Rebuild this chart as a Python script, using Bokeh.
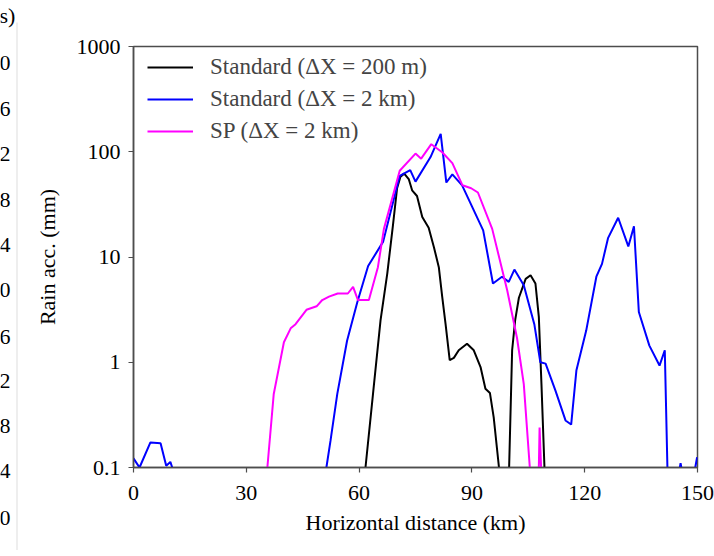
import math
from bokeh.plotting import figure
from bokeh.layouts import row
from bokeh.models import Range1d, FixedTicker, Legend, LegendItem
from bokeh.core.properties import value
from bokeh.embed import file_html
from bokeh.resources import INLINE

nan = float("nan")

# ---- data ----
dist_std200 = [61.7, 63.7, 65.7, 67.5, 69.0, 70.1, 71.0, 72.0, 73.2, 74.1, 75.4, 76.8,
               78.5, 79.9, 81.2, 82.1, 83.0, 84.1, 85.2, 86.5, 88.7, 90.5, 92.3, 93.6,
               94.8, 95.8, 97.2, nan, 99.9, 100.7, 101.5, 102.5, 104.3, 105.6, 106.9,
               107.8, 108.5, 109.3]
rain_std200 = [0.1, 0.5, 2.5, 7.0, 20, 45, 58, 62, 55, 43, 38, 24,
               19, 12.4, 8.0, 4.2, 2.3, 1.05, 1.1, 1.3, 1.5, 1.3, 0.9, 0.56,
               0.51, 0.3, 0.1, nan, 0.1, 1.3, 2.5, 4.1, 6.2, 6.7, 5.6,
               2.7, 0.62, 0.1]

dist_std2k = [0, 1.6, 4.5, 7.2, 8.7, 9.8, 10.3, nan,
              51.3, 52.4, 54.2, 56.8, 59.5, 62.4, 66.4, 70.8, 73.6, 75.0, 79.0, 81.7,
              83.2, 84.8, 87.4, 93.0, 95.6, 98.0, 99.8, 101.3, 103.8, 106.6, 108.2,
              109.6, 112.2, 114.9, 116.4, 117.8, 120.4, 123.1, 124.6, 126.2, 128.9,
              131.6, 133.1, 134.4, 137.2, 139.9, 141.3, 142.0, nan,
              145.3, 145.5, 145.7, nan, 149.4, 149.9]
rain_std2k = [0.122, 0.1, 0.173, 0.17, 0.104, 0.113, 0.1, nan,
              0.1, 0.18, 0.5, 1.6, 3.7, 8.2, 14, 59, 67, 52, 89, 148,
              51, 61, 48, 17.9, 5.6, 6.5, 5.8, 7.6, 5.4, 2.3, 1.0,
              0.97, 0.54, 0.28, 0.256, 0.84, 2.0, 6.5, 8.6, 15.1, 23.6,
              12.6, 19.6, 3.0, 1.44, 0.93, 1.3, 0.1, nan,
              0.1, 0.11, 0.1, nan, 0.1, 0.125]

dist_sp = [35.6, 37.3, 40.0, 41.8, 43.1, 46.0, 48.7, 50.2, 52.0, 54.3, 57.0, 58.4,
           59.7, 62.6, 65.0, 66.6, 70.8, 75.0, 76.5, 79.2, 82.1, 84.8, 87.5, 89.8,
           91.6, 95.4, 99.4, 102.0, 103.8, 105.4, nan, 107.8, 108.0, 108.4]
rain_sp = [0.1, 0.5, 1.55, 2.1, 2.3, 3.15, 3.4, 3.9, 4.2, 4.5, 4.5, 5.2,
           3.9, 3.9, 8.0, 18.5, 66, 96, 86, 118, 99, 78, 48, 45,
           41, 18.5, 4.8, 1.7, 0.62, 0.1, nan, 0.1, 0.24, 0.1]

x_ticks = [0, 30, 60, 90, 120, 150]
y_ticks = [0.1, 1, 10, 100, 1000]
y_tick_labels = ["0.1", "1", "10", "100", "1000"]

series_names = ["Standard (ΔX = 200 m)", "Standard (ΔX = 2 km)", "SP (ΔX = 2 km)"]
series_colors = ["#000000", "#0000ff", "#ff00ff"]

# fragments of the neighbouring panel's axis, seen at the left edge
frag_texts = ["s)", "0", "6", "2", "8", "4", "0", "6", "2", "8", "4", "0"]
frag_rows = [15, 62, 108, 153, 199, 244, 289, 336, 380, 425, 470, 517]

FONT = "Liberation Serif"

LW = 20                      # width of the left strip
FL, FT, FB = 133, 46, 467    # frame left / top / bottom in page px
W, H = 714, 550

# ---- left strip with the neighbouring panel's cut-off labels ----
pl = figure(width=LW, height=H, output_backend="svg", toolbar_location=None,
            x_range=Range1d(0, LW), y_range=Range1d(H, 0),
            x_axis_location=None, y_axis_location=None,
            min_border=0, min_border_left=0, min_border_right=0,
            min_border_top=0, min_border_bottom=0)
pl.frame_align = False
pl.outline_line_color = None
pl.grid.visible = False
pl.background_fill_color = "white"
pl.border_fill_color = "white"
pl.segment(x0=[16.5], y0=[22], x1=[16.5], y1=[H], line_color="#dddddd", line_width=1)
pl.text(x=[-1] * len(frag_texts), y=frag_rows, text=frag_texts,
        text_font=value(FONT), text_font_size="22px", text_align="left",
        text_baseline="middle", text_color="black")

# ---- main chart ----
p = figure(width=W - LW, height=H, output_backend="svg", toolbar_location=None,
           y_axis_type="log",
           x_range=Range1d(0, 150), y_range=Range1d(0.1, 1000),
           min_border_left=FL - LW, min_border_right=W - 697, min_border_top=FT,
           min_border_bottom=H - FB)
p.frame_align = False
p.background_fill_color = "white"
p.border_fill_color = "white"
p.grid.visible = False
p.outline_line_color = "#4d4d4d"
p.outline_line_width = 1.5

for ax in (p.xaxis[0], p.yaxis[0]):
    ax.axis_line_color = "#4d4d4d"
    ax.axis_line_width = 1.5
    ax.major_tick_line_color = "#4d4d4d"
    ax.major_tick_line_width = 1.2
    ax.major_tick_out = 5
    ax.major_tick_in = 0
    ax.minor_tick_line_color = None
    ax.major_label_text_font = FONT
    ax.major_label_text_font_size = "22px"
    ax.major_label_text_color = "black"
    ax.axis_label_text_font = FONT
    ax.axis_label_text_font_size = "22px"
    ax.axis_label_text_font_style = "normal"
    ax.axis_label_text_color = "black"

p.xaxis.ticker = FixedTicker(ticks=x_ticks)
p.yaxis.ticker = FixedTicker(ticks=y_ticks)
p.yaxis.major_label_overrides = {t: s for t, s in zip(y_ticks, y_tick_labels)}
p.xaxis.axis_label = "Horizontal distance (km)"
p.yaxis.axis_label = "Rain acc. (mm)"
p.xaxis.major_label_standoff = 13
p.yaxis.major_label_standoff = 8
p.xaxis.axis_label_standoff = 7
p.yaxis.axis_label_standoff = 14

r1 = p.line(dist_std200, rain_std200, line_color=series_colors[0], line_width=2)
r2 = p.line(dist_std2k, rain_std2k, line_color=series_colors[1], line_width=2)
r3 = p.line(dist_sp, rain_sp, line_color=series_colors[2], line_width=2)

pad = 5
row_h = 32
leg_h = 2 * pad + 3 * row_h
legend = Legend(items=[LegendItem(label=series_names[0], renderers=[r1]),
                       LegendItem(label=series_names[1], renderers=[r2]),
                       LegendItem(label=series_names[2], renderers=[r3])],
                location=(14 - pad, (FB - FT) - leg_h),
                margin=0, padding=pad,
                label_text_font=FONT, label_text_font_size="23px",
                label_height=row_h, glyph_height=20, glyph_width=46,
                label_standoff=17, spacing=0,
                border_line_alpha=0, background_fill_alpha=0)
p.add_layout(legend)

layout = row(pl, p, spacing=0)

open("out.html", "w").write(file_html(layout, INLINE))
